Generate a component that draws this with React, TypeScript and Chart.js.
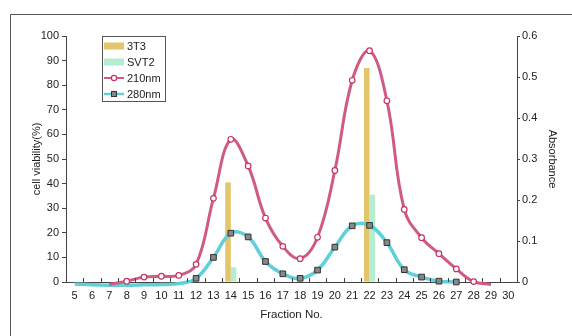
import React, { useEffect, useRef } from "react";
import { Chart, registerables } from "chart.js";

Chart.register(...registerables);

const fractions = ["5","6","7","8","9","10","11","12","13","14","15","16","17","18","19","20","21","22","23","24","25","26","27","28","29","30"];

const viability3T3 = [null,null,null,null,null,null,null,null,null,40.5,null,null,null,null,null,null,null,87,null,null,null,null,null,null,null,null];
const viabilitySVT2 = [null,null,null,null,null,null,null,null,null,6,null,null,null,null,null,null,null,35.5,null,null,null,null,null,null,null,null];

const abs210 = [null,null,-0.006,0.002,0.012,0.014,0.016,0.043,0.204,0.348,0.283,0.156,0.087,0.057,0.109,0.272,0.492,0.564,0.442,0.177,0.108,0.069,0.032,0.001,-0.006,null];
const abs280 = [-0.005,-0.007,-0.008,-0.008,-0.007,-0.006,-0.004,0.009,0.060,0.119,0.110,0.050,0.020,0.009,0.029,0.085,0.137,0.138,0.096,0.030,0.012,0.002,0.000,null,null,null];

const marked210 = [8, 28];
const marked280 = [12, 27];

const leftTicks = { min: 0, max: 100, step: 10 };
const rightTicks = { min: 0, max: 0.6, step: 0.1 };

const FONT = "'Liberation Sans', Arial, sans-serif";
const C3T3 = "#e3c66c";
const CSVT2 = "#b6eccf";
const C210 = "#d05a86";
const C210M = "#c8325e";
const C280 = "#5fd0d9";
const AXIS = "#444";
const TXT = "#222";

const inRange = (idx: number, r: number[]) => {
  const f = Number(fractions[idx]);
  return f >= r[0] && f <= r[1];
};

const extras = {
  id: "extras",
  afterDraw(chart: any) {
    const ctx = chart.ctx;
    const area = chart.chartArea;
    const xs = chart.scales.x;
    ctx.save();
    // outer frame
    ctx.strokeStyle = "#555";
    ctx.lineWidth = 1;
    ctx.beginPath();
    ctx.moveTo(10.5, 336);
    ctx.lineTo(10.5, 14.5);
    ctx.lineTo(572, 14.5);
    ctx.stroke();
    // inward x tick marks at category boundaries
    ctx.strokeStyle = AXIS;
    ctx.beginPath();
    for (let i = 0; i < fractions.length - 1; i++) {
      const x = Math.round((xs.getPixelForValue(i) + xs.getPixelForValue(i + 1)) / 2) + 0.5;
      ctx.moveTo(x, area.bottom);
      ctx.lineTo(x, area.bottom - 4);
    }
    ctx.stroke();
    // legend
    const bx = 102.5, by = 36.5, bw = 63, bh = 65;
    ctx.fillStyle = "#fff";
    ctx.fillRect(bx, by, bw, bh);
    ctx.strokeStyle = "#555";
    ctx.strokeRect(bx, by, bw, bh);
    const rows = [46, 62, 78, 94];
    const names = ["3T3", "SVT2", "210nm", "280nm"];
    ctx.fillStyle = C3T3;
    ctx.fillRect(104, rows[0] - 3.5, 20, 7);
    ctx.fillStyle = CSVT2;
    ctx.fillRect(104, rows[1] - 3.5, 20, 7);
    ctx.lineWidth = 2;
    ctx.strokeStyle = C210;
    ctx.beginPath();
    ctx.moveTo(104, rows[2]);
    ctx.lineTo(124, rows[2]);
    ctx.stroke();
    ctx.lineWidth = 1.2;
    ctx.strokeStyle = C210M;
    ctx.fillStyle = "#fff";
    ctx.beginPath();
    ctx.arc(114, rows[2], 2.6, 0, Math.PI * 2);
    ctx.fill();
    ctx.stroke();
    ctx.lineWidth = 2.5;
    ctx.strokeStyle = C280;
    ctx.beginPath();
    ctx.moveTo(104, rows[3]);
    ctx.lineTo(124, rows[3]);
    ctx.stroke();
    ctx.lineWidth = 1;
    ctx.fillStyle = "#888";
    ctx.strokeStyle = "#333";
    ctx.fillRect(111, rows[3] - 3, 6, 6);
    ctx.strokeRect(111.5, rows[3] - 2.5, 5, 5);
    ctx.fillStyle = TXT;
    ctx.font = `11px ${FONT}`;
    ctx.textBaseline = "middle";
    ctx.textAlign = "left";
    names.forEach((n, i) => ctx.fillText(n, 127, rows[i] + 0.5));
    ctx.restore();
  },
};

export default function App() {
  const ref = useRef<HTMLCanvasElement | null>(null);
  useEffect(() => {
    document.body.style.margin = "0";
    const canvas = ref.current!;
    const chart = new Chart(canvas, {
      type: "bar",
      data: {
        labels: fractions,
        datasets: [
          {
            type: "line",
            label: "210nm",
            data: abs210 as any,
            yAxisID: "y1",
            borderColor: C210,
            borderWidth: 3,
            tension: 0.4,
            spanGaps: false,
            clip: 10 as any,
            order: 0,
            pointStyle: "circle",
            pointRadius: (c: any) => (inRange(c.dataIndex, marked210) ? 2.8 : 0),
            pointBorderWidth: 1.2,
            pointBorderColor: C210M,
            pointBackgroundColor: "#fff",
          } as any,
          {
            type: "line",
            label: "280nm",
            data: abs280 as any,
            yAxisID: "y1",
            borderColor: C280,
            borderWidth: 3.5,
            tension: 0.4,
            spanGaps: false,
            clip: 10 as any,
            order: 1,
            pointStyle: "rect",
            pointRadius: (c: any) => (inRange(c.dataIndex, marked280) ? 4 : 0),
            pointBorderWidth: 1,
            pointBorderColor: "#333",
            pointBackgroundColor: "#888",
          } as any,
          {
            label: "3T3",
            data: viability3T3 as any,
            yAxisID: "y",
            backgroundColor: C3T3,
            barPercentage: 1,
            categoryPercentage: 0.64,
            order: 2,
          },
          {
            label: "SVT2",
            data: viabilitySVT2 as any,
            yAxisID: "y",
            backgroundColor: CSVT2,
            barPercentage: 1,
            categoryPercentage: 0.64,
            order: 3,
          },
        ],
      },
      options: {
        responsive: false,
        animation: false,
        layout: { padding: { top: 36, left: 0, right: 0, bottom: 0 } },
        plugins: {
          legend: { display: false },
          tooltip: { enabled: false },
        },
        scales: {
          x: {
            offset: true,
            grid: { display: true, drawOnChartArea: false, drawTicks: false, offset: true, color: "transparent" },
            border: { display: true, color: AXIS, width: 1 },
            ticks: { color: TXT, font: { family: FONT, size: 11 }, padding: 7, maxRotation: 0, autoSkip: false },
            title: { display: true, text: "Fraction No.", color: TXT, font: { family: FONT, size: 11.5 }, padding: { top: 0, bottom: 14 } },
            afterFit: (s: any) => { s.height = 54; },
          },
          y: {
            position: "left",
            min: leftTicks.min,
            max: leftTicks.max,
            ticks: { stepSize: leftTicks.step, color: TXT, font: { family: FONT, size: 11 }, padding: 3 },
            grid: { drawOnChartArea: false, drawTicks: true, tickLength: 4, color: AXIS },
            border: { display: true, color: AXIS, width: 1 },
            title: { display: true, text: "cell viability(%)", color: TXT, font: { family: FONT, size: 11 }, padding: { top: 30, bottom: 0 } },
            afterFit: (s: any) => { s.width = 66; },
          },
          y1: {
            position: "right",
            min: rightTicks.min,
            max: rightTicks.max,
            ticks: {
              stepSize: rightTicks.step,
              color: TXT,
              font: { family: FONT, size: 11 },
              padding: 2,
              callback: (v: any) => (Number(v) === 0 ? "0" : Number(v).toFixed(1)),
            },
            grid: { drawOnChartArea: false, drawTicks: true, tickLength: 3, color: AXIS },
            border: { display: true, color: AXIS, width: 1 },
            title: { display: true, text: "Absorbance", color: TXT, font: { family: FONT, size: 11 }, padding: { top: 13, bottom: 0 } },
            afterFit: (s: any) => { s.width = 55; },
          },
        },
      },
      plugins: [extras],
    });
    return () => chart.destroy();
  }, []);
  return (
    <div style={{ width: 572, height: 336 }}>
      <canvas ref={ref} width={572} height={336} style={{ display: "block" }} />
    </div>
  );
}
